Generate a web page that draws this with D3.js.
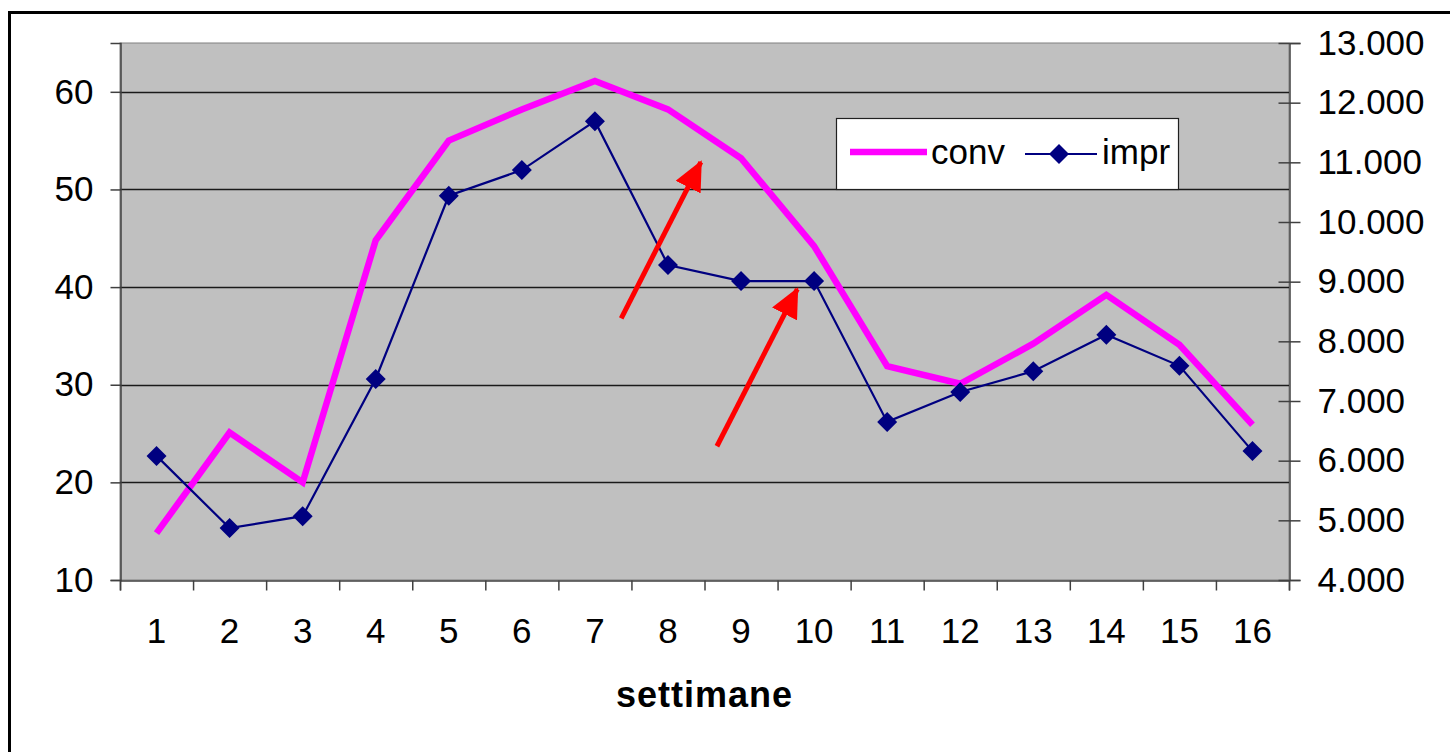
<!DOCTYPE html>
<html>
<head>
<meta charset="utf-8">
<script src="https://cdn.jsdelivr.net/npm/d3@7"></script>
<style>
	body { margin: 0; background: #fff; }
	text { font-family: "Liberation Sans", Arial, sans-serif; }
</style>
</head>
<body>
<svg class="mainsvg" width="1450" height="752"></svg>
<script>
var weeks = [1, 2, 3, 4, 5, 6, 7, 8, 9, 10, 11, 12, 13, 14, 15, 16];
var conv = [14.8, 25.1, 20, 44.8, 55, 58.2, 61.1, 58.2, 53.2, 44.2, 31.9, 30.1, 34.2, 39.2, 34.1, 25.9];
var impr = [6080, 4870, 5070, 7370, 10440, 10870, 11690, 9280, 9010, 9010, 6650, 7150, 7500, 8110, 7590, 6160];
var leftTicks = [10, 20, 30, 40, 50, 60];
var rightTicks = [4000, 5000, 6000, 7000, 8000, 9000, 10000, 11000, 12000, 13000];
var arrows = [
	{ x1: 7.36, y1: 36.8, x2: 8.45, y2: 52.8 },
	{ x1: 8.67, y1: 23.7, x2: 9.77, y2: 39.8 }
];

var _width = 1450, _height = 752;
var margin = { left: 120, right: 1289, top: 43, bottom: 580 };

var svg = d3.select('.mainsvg');

svg.append('rect')
	.attr('x', 9.5)
	.attr('y', 12.5)
	.attr('width', 1500)
	.attr('height', 800)
	.attr('fill', 'none')
	.attr('stroke', 'black')
	.attr('stroke-width', 3)

var x = d3.scaleLinear()
	.domain([0.5, 16.5])
	.range([margin.left, margin.right]);

var yL = d3.scaleLinear()
	.domain([10, 65])
	.range([margin.bottom, margin.top]);

var yR = d3.scaleLinear()
	.domain([4000, 13000])
	.range([margin.bottom, margin.top]);

svg.append('rect')
	.attr('x', margin.left)
	.attr('y', margin.top)
	.attr('width', margin.right - margin.left)
	.attr('height', margin.bottom - margin.top)
	.attr('fill', '#c0c0c0')
	.attr('stroke', '#808080')
	.attr('stroke-width', 1)

svg.selectAll('.grid')
	.data(leftTicks.slice(1))
	.enter()
	.append('line')
	.classed('grid', true)
	.attr('x1', margin.left)
	.attr('x2', margin.right)
	.attr('y1', d => Math.round(yL(d)) + 0.5)
	.attr('y2', d => Math.round(yL(d)) + 0.5)
	.attr('stroke', '#1a1a1a')
	.attr('stroke-width', 1.3)

var fmtR = function (d) { return (d / 1000).toFixed(3); };

var axisL = d3.axisLeft(yL)
	.tickValues(leftTicks)
	.tickSize(10)
	.tickPadding(17);

var axisR = d3.axisRight(yR)
	.tickValues(rightTicks)
	.tickSize(11)
	.tickPadding(17)
	.tickFormat(fmtR);

var axisB = d3.axisBottom(x)
	.tickValues(d3.range(0.5, 17, 1))
	.tickSize(10)
	.tickFormat('');

var gL = svg.append('g')
	.attr('transform', 'translate(' + (margin.left + 0.5) + ',0)')
	.call(axisL);

var gR = svg.append('g')
	.attr('transform', 'translate(' + (margin.right + 0.5) + ',0)')
	.call(axisR);

gR.selectAll('.tick line')
	.attr('x1', -11);

var gB = svg.append('g')
	.attr('transform', 'translate(0,' + (margin.bottom + 0.5) + ')')
	.call(axisB);

svg.selectAll('.domain')
	.attr('stroke', '#404040')
	.attr('stroke-width', 1.5)

svg.selectAll('.tick line')
	.attr('stroke', '#404040')
	.attr('stroke-width', 1.5)

svg.selectAll('.tick text')
	.attr('font-size', '35px')
	.attr('fill', 'black')
	.style('font-family', '"Liberation Sans", Arial, sans-serif')

svg.selectAll('.xlabel')
	.data(weeks)
	.enter()
	.append('text')
	.classed('xlabel', true)
	.attr('x', d => x(d))
	.attr('y', 643)
	.attr('fill', 'black')
	.attr('font-size', '35px')
	.style('text-anchor', 'middle')
	.text(d => d)

svg.append('text')
	.attr('x', x(8.5) + 0)
	.attr('y', 707)
	.attr('fill', 'black')
	.attr('font-size', '36px')
	.attr('font-weight', '700')
	.attr('letter-spacing', '1px')
	.style('text-anchor', 'middle')
	.text('settimane')

var lineConv = d3.line()
	.x((d, i) => x(weeks[i]))
	.y(d => yL(d));

var lineImpr = d3.line()
	.x((d, i) => x(weeks[i]))
	.y(d => yR(d));

svg.append('path')
	.datum(conv)
	.attr('d', lineConv)
	.attr('fill', 'none')
	.attr('stroke', '#ff00ff')
	.attr('stroke-width', 6.5)
	.attr('stroke-linejoin', 'miter')

svg.append('path')
	.datum(impr)
	.attr('d', lineImpr)
	.attr('fill', 'none')
	.attr('stroke', '#000080')
	.attr('stroke-width', 2.2)

var diamond = 'M0,-10L10,0L0,10L-10,0Z';

svg.selectAll('.impr-dot')
	.data(impr)
	.enter()
	.append('path')
	.classed('impr-dot', true)
	.attr('d', diamond)
	.attr('transform', (d, i) => 'translate(' + x(weeks[i]) + ',' + yR(d) + ')')
	.attr('fill', '#000080')

svg.append('defs')
	.append('marker')
	.attr('id', 'head')
	.attr('markerUnits', 'userSpaceOnUse')
	.attr('viewBox', '0 0 30 28')
	.attr('refX', 28)
	.attr('refY', 14)
	.attr('markerWidth', 30)
	.attr('markerHeight', 28)
	.attr('orient', 'auto')
	.append('path')
	.attr('d', 'M0,0L30,14L0,28Z')
	.attr('fill', '#ff0000')

svg.selectAll('.arrow')
	.data(arrows)
	.enter()
	.append('line')
	.classed('arrow', true)
	.attr('x1', d => x(d.x1))
	.attr('y1', d => yL(d.y1))
	.attr('x2', d => x(d.x2))
	.attr('y2', d => yL(d.y2))
	.attr('stroke', '#ff0000')
	.attr('stroke-width', 5)
	.attr('marker-end', 'url(#head)')

var legend = svg.append('g')
	.attr('transform', 'translate(836,118)');

legend.append('rect')
	.attr('x', 0.5)
	.attr('y', 0.5)
	.attr('width', 342)
	.attr('height', 71)
	.attr('fill', 'white')
	.attr('stroke', '#202020')
	.attr('stroke-width', 1.2)

legend.append('line')
	.attr('x1', 14)
	.attr('x2', 91)
	.attr('y1', 34)
	.attr('y2', 34)
	.attr('stroke', '#ff00ff')
	.attr('stroke-width', 6.5)

legend.append('text')
	.attr('x', 95)
	.attr('y', 46)
	.attr('fill', 'black')
	.attr('font-size', '35px')
	.text('conv')

legend.append('line')
	.attr('x1', 189)
	.attr('x2', 261)
	.attr('y1', 36)
	.attr('y2', 36)
	.attr('stroke', '#000080')
	.attr('stroke-width', 2.2)

legend.append('path')
	.attr('d', diamond)
	.attr('transform', 'translate(223,36)')
	.attr('fill', '#000080')

legend.append('text')
	.attr('x', 266)
	.attr('y', 46)
	.attr('fill', 'black')
	.attr('font-size', '35px')
	.text('impr')
</script>
</body>
</html>
